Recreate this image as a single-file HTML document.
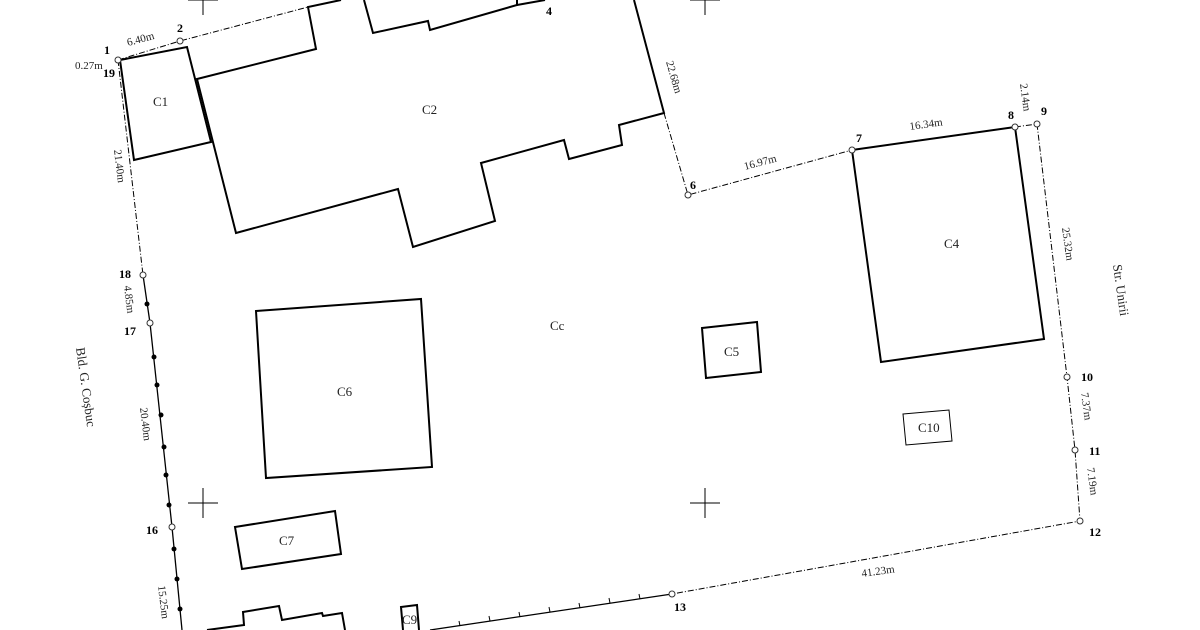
<!DOCTYPE html>
<html><head><meta charset="utf-8"><style>
html,body{margin:0;padding:0;background:#fff;}
svg{display:block;}
text{font-family:"Liberation Serif",serif;fill:#222;}
.b{font-weight:bold;font-size:12px;fill:#000;}
.d{font-size:11px;}
.c{font-size:13px;}
</style></head><body>
<svg width="1200" height="630" viewBox="0 0 1200 630" xmlns="http://www.w3.org/2000/svg">
<rect width="1200" height="630" fill="#fff"/>
<g stroke="#000" fill="none" stroke-width="2" stroke-linejoin="miter">
<!-- C1 -->
<polygon points="120,60 187,47 211,142 134,160"/>
<!-- C2 -->
<polyline points="341,0 308,7 316,49 197,79 236,233 398,189 413,247 495,221 481,163 564,140 569,159 622,145 619,125 664,113 634,0"/>
<polyline points="364,0 373,33 428,21 430,30 517,5 517,0"/>
<line x1="517" y1="5" x2="545" y2="0"/>
<!-- C4 -->
<polygon points="852,150 1015,127 1044,339 881,362"/>
<!-- C6 -->
<polygon points="256,311 421,299 432,467 266,478"/>
<!-- C5 -->
<polygon points="702,328 757,322 761,372 706,378"/>
<!-- C7 -->
<polygon points="235,527 335,511 341,554 242,569"/>
<!-- C9 -->
<polyline points="403,630 401,607 417,605 419,630"/>
<!-- bottom-left building -->
<polyline points="207,630 244,625 243,612 279,606 282,620 322,613 323,616 342,613 345,630"/>
</g>
<polygon points="903,414 949,410 952,441 906,445" stroke="#000" stroke-width="1" fill="none"/>
<!-- dashed boundary -->
<g stroke="#000" stroke-width="1" fill="none" stroke-dasharray="6,2,1,2">
<polyline points="118,60 180,41 308,7"/>
<polyline points="664,113 688,195 852,150"/>
<polyline points="1015,127 1037,124 1067,377 1075,450 1080,521 672,594"/>
<polyline points="118,60 143,275"/>
</g>
<g stroke="#000" stroke-width="1.3" fill="none">
<polyline points="143,275 150,323 172,527 182,630"/>
<polyline points="672,594 430,630"/>
</g>
<!-- ticks on bottom -->
<g stroke="#000" stroke-width="1">
<line x1="640" y1="599" x2="639" y2="594"/><line x1="610" y1="603" x2="609" y2="598"/>
<line x1="580" y1="608" x2="579" y2="603"/><line x1="550" y1="612" x2="549" y2="607"/>
<line x1="520" y1="617" x2="519" y2="612"/><line x1="490" y1="621" x2="489" y2="616"/>
<line x1="460" y1="626" x2="459" y2="621"/>
</g>
<!-- dots on left fence -->
<g fill="#000">
<circle cx="147" cy="304" r="2.5"/><circle cx="154" cy="357" r="2.5"/><circle cx="157" cy="385" r="2.5"/>
<circle cx="161" cy="415" r="2.5"/><circle cx="164" cy="447" r="2.5"/><circle cx="166" cy="475" r="2.5"/>
<circle cx="169" cy="505" r="2.5"/><circle cx="174" cy="549" r="2.5"/><circle cx="177" cy="579" r="2.5"/>
<circle cx="180" cy="609" r="2.5"/>
</g>
<!-- survey points -->
<g fill="#fff" stroke="#333" stroke-width="1">
<circle cx="118" cy="60" r="3"/><circle cx="180" cy="41" r="3"/><circle cx="688" cy="195" r="3"/>
<circle cx="852" cy="150" r="3"/><circle cx="1015" cy="127" r="3"/><circle cx="1037" cy="124" r="3"/>
<circle cx="1067" cy="377" r="3"/><circle cx="1075" cy="450" r="3"/><circle cx="1080" cy="521" r="3"/>
<circle cx="672" cy="594" r="3"/><circle cx="143" cy="275" r="3"/><circle cx="150" cy="323" r="3"/>
<circle cx="172" cy="527" r="3"/>
</g>
<!-- crosshairs -->
<g stroke="#000" stroke-width="1">
<line x1="188" y1="503" x2="218" y2="503"/><line x1="203" y1="488" x2="203" y2="518"/>
<line x1="690" y1="503" x2="720" y2="503"/><line x1="705" y1="488" x2="705" y2="518"/>
<line x1="188" y1="0" x2="218" y2="0"/><line x1="203" y1="0" x2="203" y2="15"/>
<line x1="690" y1="0" x2="720" y2="0"/><line x1="705" y1="0" x2="705" y2="15"/>
</g>
<!-- point labels -->
<text class="b" x="104" y="54">1</text><text class="b" x="103" y="77">19</text>
<text class="b" x="177" y="32">2</text><text class="b" x="546" y="15">4</text>
<text class="b" x="690" y="189">6</text><text class="b" x="856" y="142">7</text>
<text class="b" x="1008" y="119">8</text><text class="b" x="1041" y="115">9</text>
<text class="b" x="1081" y="381">10</text><text class="b" x="1089" y="455">11</text>
<text class="b" x="1089" y="536">12</text><text class="b" x="674" y="611">13</text>
<text class="b" x="119" y="278">18</text><text class="b" x="124" y="335">17</text>
<text class="b" x="146" y="534">16</text>
<!-- dims -->
<text class="d" x="128" y="46" transform="rotate(-15 128 46)">6.40m</text>
<text class="d" x="75" y="69">0.27m</text>
<text class="d" x="910" y="130" transform="rotate(-8 910 130)">16.34m</text>
<text class="d" x="745" y="170" transform="rotate(-15 745 170)">16.97m</text>
<text class="d" x="862" y="577" transform="rotate(-8 862 577)">41.23m</text>
<text class="d" transform="translate(114,150) rotate(83)">21.40m</text>
<text class="d" transform="translate(124,286) rotate(83)">4.85m</text>
<text class="d" transform="translate(140,408) rotate(83)">20.40m</text>
<text class="d" transform="translate(158,586) rotate(83)">15.25m</text>
<text class="d" transform="translate(666,62) rotate(74)">22.68m</text>
<text class="d" transform="translate(1020,84) rotate(82)">2.14m</text>
<text class="d" transform="translate(1062,228) rotate(82)">25.32m</text>
<text class="d" transform="translate(1081,393) rotate(82)">7.37m</text>
<text class="d" transform="translate(1087,468) rotate(82)">7.19m</text>
<text class="c" transform="translate(1113,265) rotate(82)">Str. Unirii</text>
<text class="c" transform="translate(76,348) rotate(82)">Bld. G. Coșbuc</text>
<!-- building labels -->
<text class="c" x="153" y="106">C1</text><text class="c" x="422" y="114">C2</text>
<text class="c" x="944" y="248">C4</text><text class="c" x="724" y="356">C5</text>
<text class="c" x="337" y="396">C6</text><text class="c" x="279" y="545">C7</text>
<text class="c" x="402" y="624">C9</text><text class="c" x="918" y="432">C10</text>
<text class="c" x="550" y="330">Cc</text>
</svg>
</body></html>
